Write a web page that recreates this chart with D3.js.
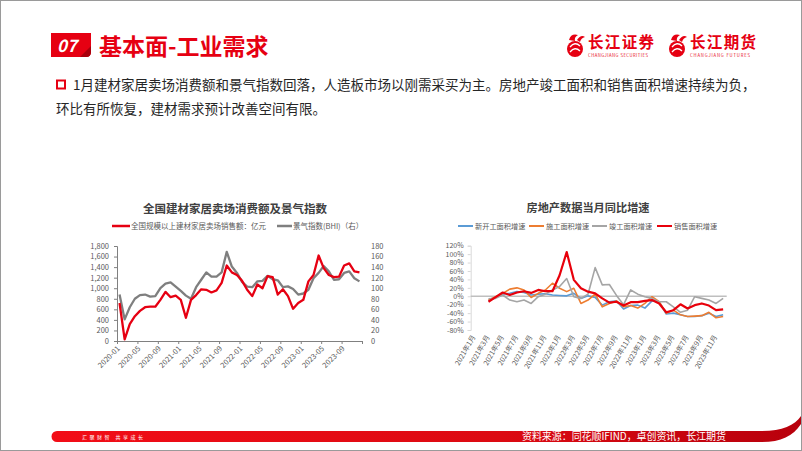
<!DOCTYPE html>
<html><head><meta charset="utf-8">
<script src="https://cdn.jsdelivr.net/npm/d3@7"></script>
<style>
html,body{margin:0;padding:0;background:#fff;}
svg{display:block;}
text{font-family:"Noto Sans CJK SC","Noto Sans",sans-serif;}
</style></head><body>
<svg id="c" width="802" height="451"></svg>
<script>
// ---------- data: left chart ----------
const months = ["2020-01","2020-02","2020-03","2020-04","2020-05","2020-06","2020-07","2020-08","2020-09","2020-10","2020-11","2020-12",
"2021-01","2021-02","2021-03","2021-04","2021-05","2021-06","2021-07","2021-08","2021-09","2021-10","2021-11","2021-12",
"2022-01","2022-02","2022-03","2022-04","2022-05","2022-06","2022-07","2022-08","2022-09","2022-10","2022-11","2022-12",
"2023-01","2023-02","2023-03","2023-04","2023-05","2023-06","2023-07","2023-08","2023-09","2023-10","2023-11","2023-12"];
const salesValues = [720,30,320,470,570,640,650,650,780,930,830,860,
780,440,780,870,980,970,920,960,1100,1430,1300,1250,
1140,970,850,1070,1000,1230,1210,880,980,850,610,720,
780,1130,1250,1620,1380,1250,1210,1220,1430,1470,1320,1300];
const bhiValues = [88,41,64,80,87,88,84,85,100,108.5,111,103,
95,86,80,102,116,130,122,122,130,169,141,129,
112,103,102,113,114,123.5,117,115,102,103.5,98.5,88,
90,97,119,129,142,132,116,117,129,132,119,113];
const leftTickLabels = ["2020-01","2020-05","2020-09","2021-01","2021-05","2021-09","2022-01","2022-05","2022-09","2023-01","2023-05","2023-09"];
const leftYTicks = [0,200,400,600,800,1000,1200,1400,1600,1800];
const rightYTicks = [0,20,40,60,80,100,120,140,160,180];

// ---------- data: right chart ----------
const reCategories = ["2021年1月","2021年2月","2021年3月","2021年4月","2021年5月","2021年6月","2021年7月","2021年8月","2021年9月","2021年10月","2021年11月","2021年12月",
"2022年1月","2022年2月","2022年3月","2022年4月","2022年5月","2022年6月","2022年7月","2022年8月","2022年9月","2022年10月","2022年11月","2022年12月",
"2023年1月","2023年2月","2023年3月","2023年4月","2023年5月","2023年6月","2023年7月","2023年8月","2023年9月","2023年10月","2023年11月","2023年12月"];
const reTickLabels = ["2021年1月","2021年3月","2021年5月","2021年7月","2021年9月","2021年11月","2022年1月","2022年3月","2022年5月","2022年7月","2022年9月","2022年11月","2023年1月","2023年3月","2023年5月","2023年7月","2023年9月","2023年11月"];
const newStartGrowth = [null,null,-11,-3,5,7,11,9,3,5,6,3,2,1,7,-5,1,-3,-21,-13,-11,-30,-22,-21,-28,-11,-13,-42,-40,-44,-48,-48,-46,-40,-48,-44];
const underConstructionGrowth = [null,null,-9,-1,7,17,20,15,-3,7,15,31,19,11,19,-17,-9,5,-25,-17,-11,-25,-22,-28,-17,-1,-13,-40,-33,-44,-48,-47,-46,-38,-51,-48];
const completedGrowth = [null,null,-6,-5,3,-9,-13,-9,-17,-1,5,15,23,42,-1,-5,5,68,27,28,2,-20,15,5,-1,-5,-13,-13,-25,-38,-33,-1,-5,-9,-17,-5];
const salesAreaGrowth = [null,null,-13,-2,9,3,9,12,8,15,12,12,50,105,39,19,11,7,-5,-15,-13,-22,-14,-14,-11,-9,-17,-38,-33,-19,-29,-21,-17,-22,-33,-31];
const reYTicks = [-80,-60,-40,-20,0,20,40,60,80,100,120];

const RED = "#e60012";
const svg = d3.select("#c");

// ---------- page frame ----------
svg.append("rect").attr("x",0.5).attr("y",0.5).attr("width",801).attr("height",450)
  .attr("fill","#fff").attr("stroke","#9a9a9a");

// ---------- header ----------
svg.append("path").attr("d","M51,33 H91 V52 Q91,57 86,57 H51 Z").attr("fill",RED);
svg.append("path").attr("d","M80,57 L91,46 V52 Q91,57 86,57 Z").attr("fill","#a8000c");
svg.append("text").attr("x",57).attr("y",52).attr("fill","#fff").attr("font-size",17)
  .attr("font-weight","bold").attr("font-style","italic").attr("font-family","Arial, 'Liberation Sans'").text("07");
svg.append("text").attr("x",99).attr("y",55).attr("fill",RED).attr("font-size",23)
  .attr("font-weight","bold").text("基本面-工业需求");

function logo(x0, name, sub){
  const g = svg.append("g");
  g.append("circle").attr("cx",x0+10).attr("cy",49).attr("r",8).attr("fill",RED);
  g.append("path").attr("d",`M${x0+5},47 Q${x0+10},41 ${x0+15},46 M${x0+5},52 Q${x0+10},46 ${x0+15},51`)
    .attr("stroke","#fff").attr("stroke-width",1.3).attr("fill","none");
  g.append("path").attr("d",`M${x0+4},40 Q${x0+6},33 ${x0+13},35 Q${x0+9},37 ${x0+10},41 Z`).attr("fill",RED);
  g.append("path").attr("d",`M${x0+12},40 Q${x0+16},34 ${x0+20},37 Q${x0+16},38 ${x0+15},42 Z`).attr("fill",RED);
  g.append("text").attr("x",x0+23).attr("y",48).attr("fill",RED).attr("font-size",15.5)
    .attr("font-weight","bold").attr("textLength",66).text(name);
  g.append("text").attr("x",x0+23).attr("y",56.5).attr("fill",RED).attr("font-size",4.2)
    .attr("font-family","Arial, 'Liberation Sans'").attr("textLength",60).text(sub);
}
logo(565,"长江证券","CHANGJIANG SECURITIES");
logo(667,"长江期货","CHANGJIANG FUTURES");

svg.append("rect").attr("x",57).attr("y",80.5).attr("width",8).attr("height",8)
  .attr("fill","none").attr("stroke",RED).attr("stroke-width",2);
svg.append("text").attr("x",73).attr("y",89.5).attr("fill","#262626").attr("font-size",13.5)
  .text("1月建材家居卖场消费额和景气指数回落，人造板市场以刚需采买为主。房地产竣工面积和销售面积增速持续为负，");
svg.append("text").attr("x",56).attr("y",113.5).attr("fill","#262626").attr("font-size",13.5)
  .text("环比有所恢复，建材需求预计改善空间有限。");

// ---------- left chart ----------
const L = {x0:117, x1:362, yTop:246, yBot:341};
const xIdx = d3.scaleLinear().domain([0, months.length]).range([L.x0, L.x1]);
const yL = d3.scaleLinear().domain([0,1800]).range([L.yBot, L.yTop]);
const yR = d3.scaleLinear().domain([0,180]).range([L.yBot, L.yTop]);
const gL = svg.append("g");

gL.append("text").attr("x",235).attr("y",213).attr("text-anchor","middle").attr("font-size",11.5)
  .attr("font-weight","bold").attr("fill","#404040").text("全国建材家居卖场消费额及景气指数");
// legend
gL.append("line").attr("x1",112).attr("x2",130).attr("y1",226).attr("y2",226).attr("stroke",RED).attr("stroke-width",2.5);
gL.append("text").attr("x",131).attr("y",228.6).attr("font-size",7.5).attr("fill","#595959").text("全国规模以上建材家居卖场销售额：亿元");
gL.append("line").attr("x1",277).attr("x2",292).attr("y1",226).attr("y2",226).attr("stroke","#7f7f7f").attr("stroke-width",2.5);
gL.append("text").attr("x",293).attr("y",228.6).attr("font-size",7.5).attr("fill","#595959").text("景气指数(BHI)（右）");

const axL = gL.append("g").attr("transform",`translate(${L.x0},0)`)
  .call(d3.axisLeft(yL).tickValues(leftYTicks).tickFormat(d3.format(",")).tickSize(3).tickPadding(5));
const axR = gL.append("g").attr("transform",`translate(${L.x1},0)`)
  .call(d3.axisRight(yR).tickValues(rightYTicks).tickSize(0).tickPadding(9));
axR.select(".domain").remove();
const tickIdx = d3.range(0, months.length+1, 4);
const axB = gL.append("g").attr("transform",`translate(0,${L.yBot})`)
  .call(d3.axisBottom(xIdx).tickValues(tickIdx).tickFormat(i => i < months.length ? leftTickLabels[i/4] : "").tickSize(3).tickSizeOuter(0));
[axL,axR,axB].forEach(a=>{
  a.selectAll(".domain").attr("stroke","#808080");
  a.selectAll(".tick line").attr("stroke","#808080");
  a.selectAll("text").attr("font-size",7.5).attr("fill","#595959").attr("font-family","Calibri,'Liberation Sans',Arial");
});
axB.selectAll("text").attr("y",0).attr("dy",0).style("text-anchor","end")
  .attr("transform","translate(3,8) rotate(-45)");

const ptX = (d,i) => xIdx(i+0.5);
gL.append("path").datum(bhiValues).attr("fill","none").attr("stroke","#7f7f7f").attr("stroke-width",2.3)
  .attr("stroke-linejoin","round").attr("d", d3.line().x(ptX).y(d=>yR(d)));
gL.append("path").datum(salesValues).attr("fill","none").attr("stroke",RED).attr("stroke-width",2.3)
  .attr("stroke-linejoin","round").attr("d", d3.line().x(ptX).y(d=>yL(d)));

// ---------- right chart ----------
const R = {x0:470.7, x1:726.7, yTop:245.7, yBot:330};
const xR = d3.scaleBand().domain(reCategories).range([R.x0,R.x1]);
const yP = d3.scaleLinear().domain([-80,120]).range([R.yBot,R.yTop]);
const gR = svg.append("g");
gR.append("text").attr("x",588).attr("y",212).attr("text-anchor","middle").attr("font-size",11.2)
  .attr("font-weight","bold").attr("fill","#404040").text("房地产数据当月同比增速");
const series = [
  {name:"新开工面积增速", values:newStartGrowth, color:"#5b9bd5", w:1.6, lx:458},
  {name:"施工面积增速", values:underConstructionGrowth, color:"#ed7d31", w:1.6, lx:529},
  {name:"竣工面积增速", values:completedGrowth, color:"#a5a5a5", w:1.6, lx:592},
  {name:"销售面积增速", values:salesAreaGrowth, color:"#e8000b", w:2.2, lx:657}
];
series.forEach(s=>{
  gR.append("line").attr("x1",s.lx).attr("x2",s.lx+15).attr("y1",226).attr("y2",226).attr("stroke",s.color).attr("stroke-width",2);
  gR.append("text").attr("x",s.lx+17).attr("y",228.5).attr("font-size",7.2).attr("fill","#595959").text(s.name);
});
const axP = gR.append("g").attr("transform",`translate(${R.x0},0)`)
  .call(d3.axisLeft(yP).tickValues(reYTicks).tickFormat(d=>d+"%").tickSize(3).tickPadding(4));
axP.selectAll(".domain,.tick line").attr("stroke","#d9d9d9");
axP.selectAll("text").attr("font-size",7).attr("fill","#595959").attr("font-family","Calibri,'Liberation Sans',Arial");
gR.append("line").attr("x1",R.x0).attr("x2",R.x1).attr("y1",yP(0)).attr("y2",yP(0)).attr("stroke","#bfbfbf").attr("stroke-width",1.5);
const axC = gR.append("g").attr("transform",`translate(0,${R.yBot})`)
  .call(d3.axisBottom(xR).tickValues(reTickLabels).tickSize(0));
axC.select(".domain").remove();
axC.selectAll("text").attr("font-size",7).attr("fill","#595959").attr("y",0).attr("dy",0)
  .style("text-anchor","end").attr("transform","translate(1.5,7) rotate(-60)");
series.forEach(s=>{
  gR.append("path").datum(s.values).attr("fill","none").attr("stroke",s.color).attr("stroke-width",s.w)
    .attr("stroke-linejoin","round")
    .attr("d", d3.line().defined(d=>d!==null).x((d,i)=>xR(reCategories[i])+xR.bandwidth()/2).y(d=>yP(d)));
});

// ---------- footer ----------
const grad = svg.append("defs").append("linearGradient").attr("id","fg").attr("x1","0").attr("x2","1");
grad.append("stop").attr("offset","0").attr("stop-color","#f20d17");
grad.append("stop").attr("offset","0.6").attr("stop-color","#dc0a12");
grad.append("stop").attr("offset","1").attr("stop-color","#b8000c");
svg.append("path").attr("d","M57,431 L762,431 C782,431 795,425 801,416 L801,424 C793,436 781,442 762,442 L57,442 A5.5,5.5 0 0 1 57,431 Z")
  .attr("fill","url(#fg)");
svg.append("text").attr("x",82).attr("y",438.5).attr("fill","#fff").attr("font-size",5).attr("letter-spacing",2.5).text("汇聚财智   共享成长");
svg.append("text").attr("x",522).attr("y",440).attr("fill","#fff").attr("font-size",10).attr("textLength",204).text("资料来源：同花顺IFIND，卓创资讯，长江期货");
</script>
</body></html>
